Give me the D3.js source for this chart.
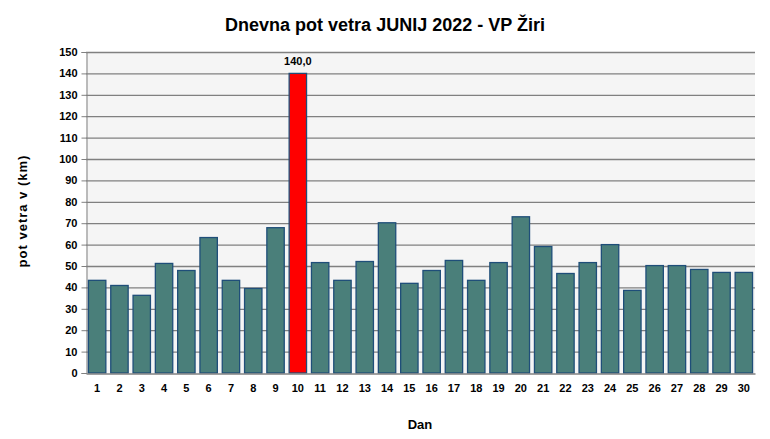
<!DOCTYPE html>
<html><head><meta charset="utf-8">
<script src="https://cdn.jsdelivr.net/npm/d3@7"></script>
<style>body{margin:0;background:#fff}svg{display:block}text{font-family:"Liberation Sans",Arial,sans-serif}</style>
</head><body>
<script>
const days = d3.range(1,31).map(String);
const values = [43.3,40.9,36.3,51.2,47.9,63.3,43.3,39.5,67.9,140.0,51.6,43.3,52.1,70.2,41.9,47.9,52.6,43.3,51.6,73.0,59.1,46.5,51.6,60.0,38.6,50.2,50.2,48.4,47.0,47.0];
const yTicks = d3.range(0,151,10);
const maxDay = "10";

const W=770,H=439;
const m={l:86,r:15,t:52,b:66};
const svg=d3.select("body").append("svg").attr("width",W).attr("height",H);
const x=d3.scaleBand().domain(days).range([m.l,W-m.r]).paddingInner(0.22).paddingOuter(0.11);
const y=d3.scaleLinear().domain([0,150]).range([H-m.b,m.t]);

svg.append("rect").attr("x",m.l).attr("y",m.t).attr("width",W-m.r-m.l).attr("height",H-m.b-m.t).attr("fill","#f5f5f5");
svg.append("g").selectAll("line").data(yTicks.filter(d=>d>0)).join("line")
 .attr("x1",m.l).attr("x2",W-m.r).attr("y1",d=>y(d)+0.5).attr("y2",d=>y(d)+0.5)
 .attr("stroke","#808080").attr("stroke-width",1.3);

const ya=svg.append("g").attr("transform",`translate(${m.l+0.5},0)`)
 .call(d3.axisLeft(y).tickValues(yTicks).tickSize(5).tickPadding(4));
ya.select(".domain").attr("stroke","#808080");
ya.selectAll(".tick line").attr("stroke","#808080");
ya.selectAll("text").attr("font-size",11).attr("font-weight","bold").attr("fill","#000");

svg.append("g").selectAll("rect").data(values).join("rect")
 .attr("x",(d,i)=>x(days[i])).attr("width",x.bandwidth())
 .attr("y",d=>y(d)).attr("height",d=>y(0)-y(d))
 .attr("fill",(d,i)=>days[i]===maxDay?"#ff0000":"#4a7f7a")
 .attr("stroke","#1f4e79").attr("stroke-width",1.3);

const xa=svg.append("g").attr("transform",`translate(0,${y(0)+0.5})`)
 .call(d3.axisBottom(x).tickSize(0).tickPadding(11));
xa.select(".domain").attr("stroke","#808080").attr("stroke-width",1.5);
xa.selectAll("text").attr("font-size",11).attr("font-weight","bold").attr("fill","#000");

const mi=days.indexOf(maxDay);
svg.append("text").attr("x",x(maxDay)+x.bandwidth()/2).attr("y",y(values[mi])-8)
 .attr("text-anchor","middle").attr("font-size",11).attr("font-weight","bold")
 .text(values[mi].toFixed(1).replace(".",","));

svg.append("text").attr("x",385).attr("y",31).attr("text-anchor","middle")
 .attr("font-size",18).attr("font-weight","bold").text("Dnevna pot vetra JUNIJ 2022 - VP Žiri");
svg.append("text").attr("x",420).attr("y",429).attr("text-anchor","middle")
 .attr("font-size",13).attr("font-weight","bold").text("Dan");
svg.append("text").attr("transform","translate(27,211) rotate(-90)").attr("text-anchor","middle")
 .attr("font-size",13).attr("font-weight","bold").attr("letter-spacing","1").text("pot vetra  v (km)");
</script>
</body></html>
